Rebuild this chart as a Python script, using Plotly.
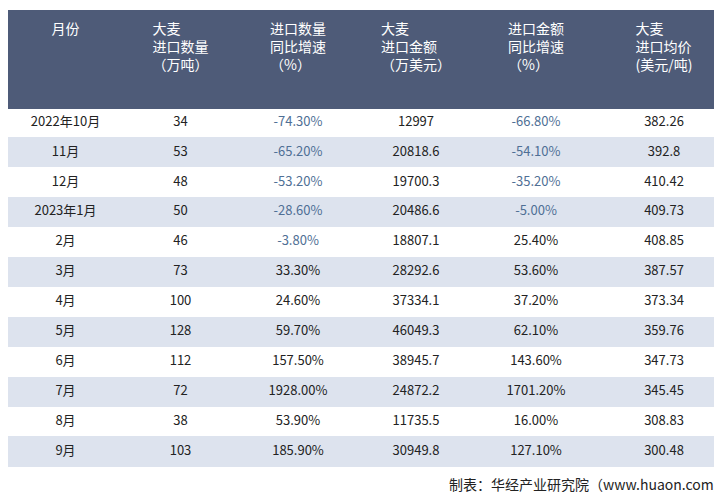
import plotly.graph_objects as go

months = ["2022年10月","11月","12月","2023年1月","2月","3月","4月","5月","6月","7月","8月","9月"]
qty = ["34","53","48","50","46","73","100","128","112","72","38","103"]
qty_yoy = ["-74.30%","-65.20%","-53.20%","-28.60%","-3.80%","33.30%","24.60%","59.70%","157.50%","1928.00%","53.90%","185.90%"]
amount = ["12997","20818.6","19700.3","20486.6","18807.1","28292.6","37334.1","46049.3","38945.7","24872.2","11735.5","30949.8"]
amt_yoy = ["-66.80%","-54.10%","-35.20%","-5.00%","25.40%","53.60%","37.20%","62.10%","143.60%","1701.20%","16.00%","127.10%"]
price = ["382.26","392.8","410.42","409.73","408.85","387.57","373.34","359.76","347.73","345.45","308.83","300.48"]
headers = ["<br><br>月份","<br>大麦<br>进口数量<br>（万吨）","<br>进口数量<br>同比增速<br>（%）","<br>大麦<br>进口金额<br>（万美元）","<br>进口金额<br>同比增速<br>（%）","<br>大麦<br>进口均价<br>(美元/吨)"]

cols = [months, qty, qty_yoy, amount, amt_yoy, price]
row_fill = ["white" if i % 2 == 0 else "#dde3ee" for i in range(len(months))]
def colors(col):
    return ["#4f6f95" if v.startswith("-") else "#222222" for v in col]

fig = go.Figure(go.Table(
    columnwidth=[115,115,120,116,124,132],
    header=dict(values=headers, fill_color="#4e5b78", line_color="#4e5b78",
                font=dict(color="white", size=14, family="Noto Sans CJK SC"),
                align="center", height=98),
    cells=dict(values=cols, fill_color=[row_fill]*6, line_color=[row_fill]*6,
               font=dict(color=[colors(c) for c in cols], size=13, family="Noto Sans CJK SC"),
               align="center", height=29.9),
    domain=dict(x=[0,1], y=[0,1]),
))
fig.add_annotation(text="制表：华经产业研究院（www.huaon.com）", x=1, y=-0.035, xref="paper", yref="paper",
                   xanchor="right", yanchor="middle", showarrow=False,
                   font=dict(size=14, color="#222", family="Noto Sans CJK SC"))
fig.add_shape(type="line", x0=0, x1=1, y0=-0.066, y1=-0.066, xref="paper", yref="paper",
              line=dict(color="#4e5b78", width=3))
fig.update_layout(width=722, height=492, margin=dict(l=0,r=0,t=2,b=32), paper_bgcolor="white")
fig.write_html("out.html")
